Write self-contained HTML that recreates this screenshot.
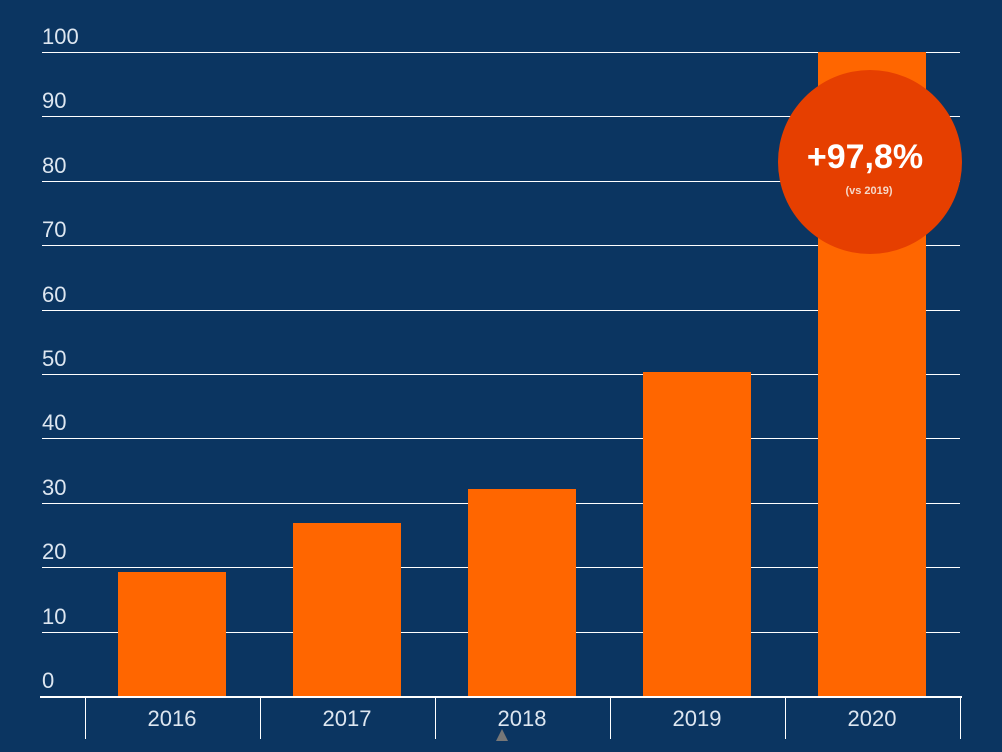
<!DOCTYPE html>
<html><head><meta charset="utf-8"><style>
html,body{margin:0;padding:0;background:#0b3561;}
</style></head><body>
<svg width="1002" height="752" xmlns="http://www.w3.org/2000/svg" style="display:block">
<rect width="1002" height="752" fill="#0b3561"/>
<g stroke="#ffffff" stroke-width="1">
<line x1="42" x2="960" y1="52.5" y2="52.5"/>
<line x1="42" x2="960" y1="116.5" y2="116.5"/>
<line x1="42" x2="960" y1="181.5" y2="181.5"/>
<line x1="42" x2="960" y1="245.5" y2="245.5"/>
<line x1="42" x2="960" y1="310.5" y2="310.5"/>
<line x1="42" x2="960" y1="374.5" y2="374.5"/>
<line x1="42" x2="960" y1="438.5" y2="438.5"/>
<line x1="42" x2="960" y1="503.5" y2="503.5"/>
<line x1="42" x2="960" y1="567.5" y2="567.5"/>
<line x1="42" x2="960" y1="632.5" y2="632.5"/>
</g>
<g fill="#ff6600">
<rect x="118" y="572" width="108" height="124"/>
<rect x="293" y="523" width="108" height="173"/>
<rect x="468" y="489" width="108" height="207"/>
<rect x="643" y="372" width="108" height="324"/>
<rect x="818" y="52" width="108" height="644"/>
</g>
<g stroke="#ffffff" stroke-width="2">
<line x1="40" x2="962" y1="697" y2="697"/>
</g>
<g stroke="#ffffff" stroke-width="1">
<line x1="85.5" x2="85.5" y1="697" y2="739"/>
<line x1="260.5" x2="260.5" y1="697" y2="739"/>
<line x1="435.5" x2="435.5" y1="697" y2="739"/>
<line x1="610.5" x2="610.5" y1="697" y2="739"/>
<line x1="785.5" x2="785.5" y1="697" y2="739"/>
<line x1="960.5" x2="960.5" y1="697" y2="739"/>
</g>
<g fill="#dde6f0" font-family="Liberation Sans, sans-serif" font-size="22">
<text x="42" y="44">100</text>
<text x="42" y="108">90</text>
<text x="42" y="173">80</text>
<text x="42" y="237">70</text>
<text x="42" y="302">60</text>
<text x="42" y="366">50</text>
<text x="42" y="430">40</text>
<text x="42" y="495">30</text>
<text x="42" y="559">20</text>
<text x="42" y="624">10</text>
<text x="42" y="688">0</text>
<g text-anchor="middle">
<text x="172" y="726">2016</text>
<text x="347" y="726">2017</text>
<text x="522" y="726">2018</text>
<text x="697" y="726">2019</text>
<text x="872" y="726">2020</text>
</g>
</g>
<polygon points="502,729 496,741 508,741" fill="#777"/>
<circle cx="870" cy="162" r="92" fill="#e63f00"/>
<text x="865" y="168" text-anchor="middle" fill="#fff" font-family="Liberation Sans, sans-serif" font-weight="bold" font-size="34">+97,8%</text>
<text x="869" y="194" text-anchor="middle" fill="#f5d8c8" font-family="Liberation Sans, sans-serif" font-weight="bold" font-size="11">(vs 2019)</text>
</svg>
</body></html>
